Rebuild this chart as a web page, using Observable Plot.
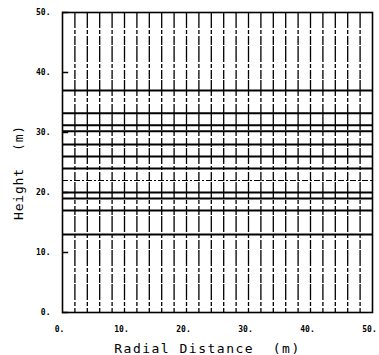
<!DOCTYPE html>
<html>
<head>
<meta charset="utf-8">
<script src="https://cdn.jsdelivr.net/npm/d3@7"></script>
<script src="https://cdn.jsdelivr.net/npm/@observablehq/plot@0.6"></script>
<style>
  html, body { margin: 0; padding: 0; background: #fff; }
  #chart svg { display: block; }
</style>
</head>
<body>
<div id="chart"></div>
<script>
// Radial positions of the vertical grid lines (m)
const radialLines = [2, 4, 6, 8, 10, 12, 14, 16, 18, 20, 22, 24, 26, 28, 30, 32, 34, 36, 38, 40, 42, 44, 46, 48];
// Heights of the solid horizontal lines (m)
const heightLines = [13, 17, 19, 20, 24, 26, 28, 30.2, 31.2, 33.2, 37];
// Heights of the faint horizontal lines (m)
const faintHeightLines = [22];
// Axis ticks
const xTicks = [0, 10, 20, 30, 40, 50];
const yTicks = [0, 10, 20, 30, 40, 50];
const xTitle = "Radial Distance  (m)";
const yTitle = "Height  (m)";

const mono = "'DejaVu Sans Mono', 'Liberation Mono', monospace";

const chart = Plot.plot({
  width: 379,
  height: 355,
  marginLeft: 62,
  marginRight: 7,
  marginTop: 12,
  marginBottom: 43,
  style: { background: "#fff", color: "#000" },
  x: { domain: [0, 50] },
  y: { domain: [0, 50] },
  marks: [
    Plot.ruleX(radialLines, { x: d => d, stroke: "#000", strokeWidth: 1.3, strokeDasharray: "16,2,4,2,9,1" }),
    Plot.ruleY(faintHeightLines, { y: d => d, stroke: "#000", strokeWidth: 1, strokeDasharray: "6,2,2,2" }),
    Plot.ruleY(heightLines, { y: d => d, stroke: "#000", strokeWidth: 2 }),
    Plot.frame({ stroke: "#000", strokeWidth: 1.6 }),
    Plot.axisY(yTicks, {
      anchor: "left", tickSize: 0, tickPadding: 12, label: null,
      tickFormat: d => d + ".", fontSize: 8, fontWeight: "bold", fontFamily: mono
    }),
    Plot.ruleY(yTicks, { y: d => d, x1: 0, x2: 1, stroke: "#000", strokeWidth: 1.5 }),
    Plot.axisX(xTicks, {
      anchor: "bottom", tickSize: 0, tickPadding: 14, label: null,
      tickFormat: d => d + ".", fontSize: 8, fontWeight: "bold", fontFamily: mono, dx: -3
    }),
    Plot.text([xTitle], {
      frameAnchor: "bottom", dy: 40, dx: -10, text: d => d, textAnchor: "middle",
      fontSize: 13, fontFamily: mono, fill: "#000", className: "xtitle"
    }),
    Plot.text([yTitle], {
      frameAnchor: "left", dx: -44, dy: 10, rotate: -90, text: d => d, textAnchor: "middle",
      fontSize: 13, fontFamily: mono, fill: "#000", className: "ytitle"
    })
  ]
});
d3.select(chart).selectAll(".xtitle text").style("letter-spacing", "1.5px");
d3.select(chart).selectAll(".ytitle text").style("letter-spacing", "0.8px");
document.getElementById("chart").appendChild(chart);
</script>
</body>
</html>
